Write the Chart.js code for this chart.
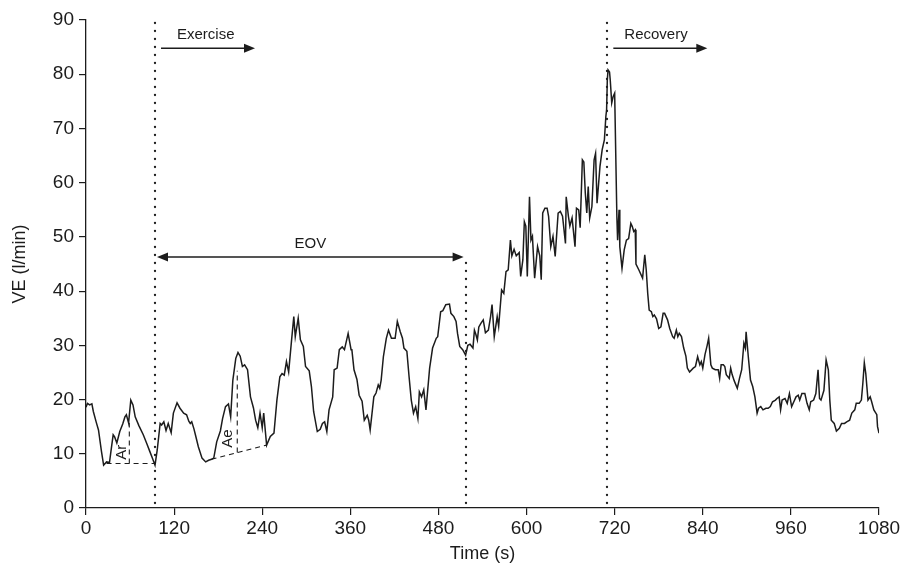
<!DOCTYPE html>
<html><head><meta charset="utf-8">
<script src="https://cdn.jsdelivr.net/npm/chart.js@4.4.0/dist/chart.umd.min.js"></script>
<style>html,body{margin:0;padding:0;background:#fff}#wrap{width:905px;height:570px}</style>
</head><body><div id="wrap"><canvas id="c" width="905" height="570"></canvas></div>
<script>
// ---- data ----
const times = [0,2,5,8,10,14,17,21,24,28,32,35,37,39,42,46,50,53,55,58,61,64,67,72,78,83,87,91,94,97,101,103,106,109,112,116,119,124,128,133,137,140,142,144,147,149,153,158,163,167,171,174,178,183,186,190,194,197,200,204,207,210,213,216,220,224,228,231,234,237,240,242,246,251,256,260,264,267,270,273,276,280,283,285,289,292,296,299,304,307,310,315,319,322,325,328,331,336,338,342,345,349,352,357,361,362,365,369,372,376,379,383,385,387,389,392,395,398,400,402,405,409,412,416,421,424,428,431,433,437,440,443,446,449,452,454,457,460,463,468,472,477,479,483,486,490,495,497,501,504,506,509,513,517,520,523,527,529,531,533,535,538,541,544,548,551,553,556,560,562,566,569,572,575,578,580,583,586,590,592,595,597,599,601,604,606,608,611,615,618,620,622,625,628,630,633,636,639,643,646,649,653,654,657,659,662,666,668,671,673,676,678,680,682,684,686,689,692,694,696,700,703,706,708,709,710,711,713,714,716,718,720,723,724,726,727,730,733,736,739,742,744,746,748,749,753,758,761,763,765,767,770,772,774,777,780,783,786,788,792,795,799,801,804,806,808,811,814,817,819,822,827,830,833,836,838,840,843,846,848,851,853,857,861,863,865,868,870,872,876,878,880,883,887,890,893,896,898,899,902,905,908,911,914,916,919,922,926,929,932,935,939,941,944,946,948,952,955,958,961,964,967,970,972,975,979,982,985,987,991,994,997,999,1001,1005,1008,1011,1013,1015,1019,1022,1026,1029,1033,1036,1040,1043,1047,1049,1053,1056,1058,1060,1062,1065,1068,1070,1073,1077,1078,1080];
const ve = [18.6,19.3,19.0,19.2,17.8,15.8,14.4,10.5,7.9,8.5,8.4,11.5,13.5,13.1,12.0,14.1,15.5,16.8,17.2,15.7,19.9,19.0,16.8,15.2,13.5,11.8,10.4,9.0,7.9,10.7,15.6,15.3,15.9,14.3,15.6,13.9,17.5,19.4,18.4,17.5,17.2,16.0,15.6,15.9,14.6,13.5,11.3,9.2,8.5,8.8,9.0,9.2,12.2,14.2,16.5,18.7,19.2,16.8,23.6,27.6,28.7,28.0,26.1,26.4,25.5,20.5,18.5,16.2,14.8,17.5,14.8,17.5,11.6,13.2,13.8,19.9,24.2,24.8,24.5,27.0,25.1,31.0,35.3,31.6,35.0,31.0,29.8,26.1,25.3,22.4,17.8,14.1,14.5,15.6,15.9,14.1,18.1,20.5,25.5,25.8,29.2,29.7,29.2,32.2,29.2,29.3,25.5,23.7,20.8,19.7,16.2,17.1,16.2,14.4,16.8,20.5,21.2,22.7,22.1,23.6,27.9,31.3,32.8,31.3,31.3,34.4,32.5,31.3,29.5,28.9,24.2,19.9,17.5,18.7,16.5,21.4,20.5,21.8,18.1,25.8,29.5,31.3,31.6,36.2,36.4,37.5,37.6,35.9,35.3,34.4,32.2,29.8,29.2,28.2,30.0,30.2,29.5,32.8,32.0,31.0,33.4,34.1,34.7,32.3,32.8,35.3,37.5,31.6,35.3,33.5,40.2,39.6,43.6,43.9,49.4,46.5,47.7,46.5,47.1,42.7,45.8,52.8,52.0,42.7,57.4,49.4,50.1,42.4,48.2,46.5,42.1,54.4,55.3,55.3,53.8,48.2,50.1,46.4,54.4,54.7,53.8,48.8,57.4,53.8,52.0,53.5,48.2,55.3,55.0,51.7,64.2,63.8,58.1,54.4,59.3,53.5,55.6,64.2,65.4,56.2,63.0,66.1,67.9,72.2,73.4,79.0,80.8,80.4,78.9,74.7,75.9,76.5,53.7,49.4,55.0,48.2,44.2,47.6,49.4,49.7,52.5,51.9,51.0,51.3,45.0,43.9,42.4,46.7,43.9,39.6,36.5,36.2,35.3,35.6,34.9,33.1,33.4,35.9,35.9,34.7,33.1,31.6,31.3,32.8,31.6,32.2,31.6,29.5,28.0,25.8,25.1,25.8,26.1,27.9,26.4,27.0,25.8,28.3,30.0,31.3,26.4,25.8,25.5,25.5,23.9,26.4,26.4,26.1,24.6,23.9,25.8,24.6,23.4,22.1,23.9,25.5,30.4,29.5,32.5,27.9,23.6,22.4,20.5,17.5,18.4,18.7,18.1,18.4,18.4,18.7,19.6,19.9,20.2,20.5,18.1,19.9,20.2,19.3,21.1,18.7,19.6,20.5,20.8,19.9,21.1,21.1,19.3,18.1,19.6,19.9,21.1,25.5,20.2,19.9,21.7,27.3,25.5,19.9,16.2,15.6,14.2,14.7,15.6,15.6,15.9,16.2,17.5,18.1,19.3,19.3,19.9,23.0,26.8,24.8,19.9,20.5,19.6,18.1,17.2,15.0,13.8];
const xTicks = [0,120,240,360,480,600,720,840,960,1080];
const yTicks = [0,10,20,30,40,50,60,70,80,90];
const phaseLines = [94, 517, 710];      // exercise start, EOV end, recovery start (s)
const phaseLabels = ['Exercise', 'Recovery'];
const eovLabel = 'EOV';
const eovLevel = 46.3;                  // VE level of EOV arrow
const arBase = [28, 94, 8.2];           // Ar baseline: t0, t1, VE
const arPeak = [59, 15.7];              // Ar height line: t, VE top
const aeBase = [171, 9.0, 246, 11.6];   // Ae baseline: t0, VE0, t1, VE1
const aePeak = [206, 25.3];             // Ae height line: t, VE top
const xTitle = 'Time (s)';
const yTitle = 'VE (l/min)';

const FONT = "'Liberation Sans', Arial, sans-serif";
const INK = '#1c1c1c';

const annot = {
  id: 'annot',
  afterDatasetsDraw(chart) {
    const {ctx, scales: {x, y}} = chart;
    const X = v => x.getPixelForValue(v), Y = v => y.getPixelForValue(v);
    ctx.save();
    ctx.fillStyle = INK; ctx.strokeStyle = INK;
    const dotted = (t, vTop) => {
      const px = Math.round(X(t)), top = Y(vTop), bot = Y(0);
      for (let yy = bot - 5; yy >= top; yy -= 8) {
        ctx.beginPath(); ctx.arc(px, yy, 1.15, 0, Math.PI * 2); ctx.fill();
      }
    };
    dotted(phaseLines[0], 89.5);
    dotted(phaseLines[1], eovLevel);
    dotted(phaseLines[2], 89.5);
    const head = (px, py, dir) => {
      ctx.beginPath();
      ctx.moveTo(px, py);
      ctx.lineTo(px - dir * 11, py - 4.5);
      ctx.lineTo(px - dir * 11, py + 4.5);
      ctx.closePath(); ctx.fill();
    };
    const hline = (x0, x1, py) => {
      ctx.beginPath(); ctx.lineWidth = 1.4; ctx.setLineDash([]);
      ctx.moveTo(x0, py); ctx.lineTo(x1, py); ctx.stroke();
    };
    const ay = Y(84.8);
    const ex0 = X(phaseLines[0]) + 6, ex1 = X(phaseLines[0]) + 100;
    hline(ex0, ex1 - 4, ay); head(ex1, ay, 1);
    const rc0 = X(phaseLines[2]) + 6, rc1 = X(phaseLines[2]) + 100;
    hline(rc0, rc1 - 4, ay); head(rc1, ay, 1);
    ctx.font = `15px ${FONT}`;
    ctx.textAlign = 'left'; ctx.textBaseline = 'middle';
    ctx.fillText(phaseLabels[0], X(phaseLines[0]) + 22, Y(87.2));
    ctx.fillText(phaseLabels[1], X(phaseLines[2]) + 17, Y(87.2));
    const ey = Y(eovLevel);
    const e0 = X(phaseLines[0]) + 2, e1 = X(phaseLines[1]) - 2;
    hline(e0 + 6, e1 - 6, ey); head(e0, ey, -1); head(e1, ey, 1);
    ctx.textAlign = 'center'; ctx.textBaseline = 'alphabetic';
    ctx.fillText(eovLabel, (e0 + e1) / 2, ey - 9);
    ctx.lineWidth = 1.1; ctx.setLineDash([5, 4]);
    ctx.beginPath();
    ctx.moveTo(X(arBase[0]), Y(arBase[2])); ctx.lineTo(X(arBase[1]), Y(arBase[2]));
    ctx.moveTo(X(arPeak[0]), Y(arBase[2])); ctx.lineTo(X(arPeak[0]), Y(arPeak[1]));
    ctx.moveTo(X(aeBase[0]), Y(aeBase[1])); ctx.lineTo(X(aeBase[2]), Y(aeBase[3]));
    const aeBot = aeBase[1] + (aePeak[0] - aeBase[0]) / (aeBase[2] - aeBase[0]) * (aeBase[3] - aeBase[1]);
    ctx.moveTo(X(aePeak[0]), Y(aeBot)); ctx.lineTo(X(aePeak[0]), Y(aePeak[1]));
    ctx.stroke();
    ctx.setLineDash([]);
    ctx.font = `15px ${FONT}`; ctx.textAlign = 'center'; ctx.textBaseline = 'middle';
    const rot = (txt, px, py) => { ctx.save(); ctx.translate(px, py); ctx.rotate(-Math.PI / 2); ctx.fillText(txt, 0, 0); ctx.restore(); };
    rot('Ar', X(arPeak[0]) - 7, Y(10.3));
    rot('Ae', X(aePeak[0]) - 9, Y(12.8));
    ctx.restore();
  }
};

new Chart(document.getElementById('c'), {
  type: 'line',
  data: {
    datasets: [{
      data: times.map((t, i) => ({x: t, y: ve[i]})),
      borderColor: INK, borderWidth: 1.5, pointRadius: 0, tension: 0, fill: false
    }]
  },
  options: {
    responsive: false, animation: false, devicePixelRatio: 1,
    layout: {padding: {top: 20, right: 26, left: 0, bottom: 0}},
    plugins: {legend: {display: false}, tooltip: {enabled: false}},
    scales: {
      x: {
        type: 'linear', min: 0, max: 1080,
        afterBuildTicks: s => { s.ticks = xTicks.map(v => ({value: v})); },
        afterFit: s => { s.height = 62; },
        ticks: {color: INK, font: {family: FONT, size: 19}, padding: 2, maxRotation: 0, autoSkip: false, callback: v => String(v)},
        grid: {display: true, drawOnChartArea: false, drawTicks: true, tickLength: 7, color: INK, lineWidth: 1.2},
        border: {display: true, color: INK, width: 1.3},
        title: {display: true, text: xTitle, color: INK, font: {family: FONT, size: 18}, padding: {top: 0, bottom: 5}}
      },
      y: {
        min: 0, max: 90,
        afterBuildTicks: s => { s.ticks = yTicks.map(v => ({value: v})); },
        afterFit: s => { s.width = 86; },
        ticks: {color: INK, font: {family: FONT, size: 19}, padding: 5, callback: v => String(v)},
        grid: {display: true, drawOnChartArea: false, drawTicks: true, tickLength: 7, color: INK, lineWidth: 1.2},
        border: {display: true, color: INK, width: 1.3},
        title: {display: true, text: yTitle, color: INK, font: {family: FONT, size: 18}, padding: {top: 9, bottom: 0}}
      }
    }
  },
  plugins: [annot]
});
</script>
</body></html>
